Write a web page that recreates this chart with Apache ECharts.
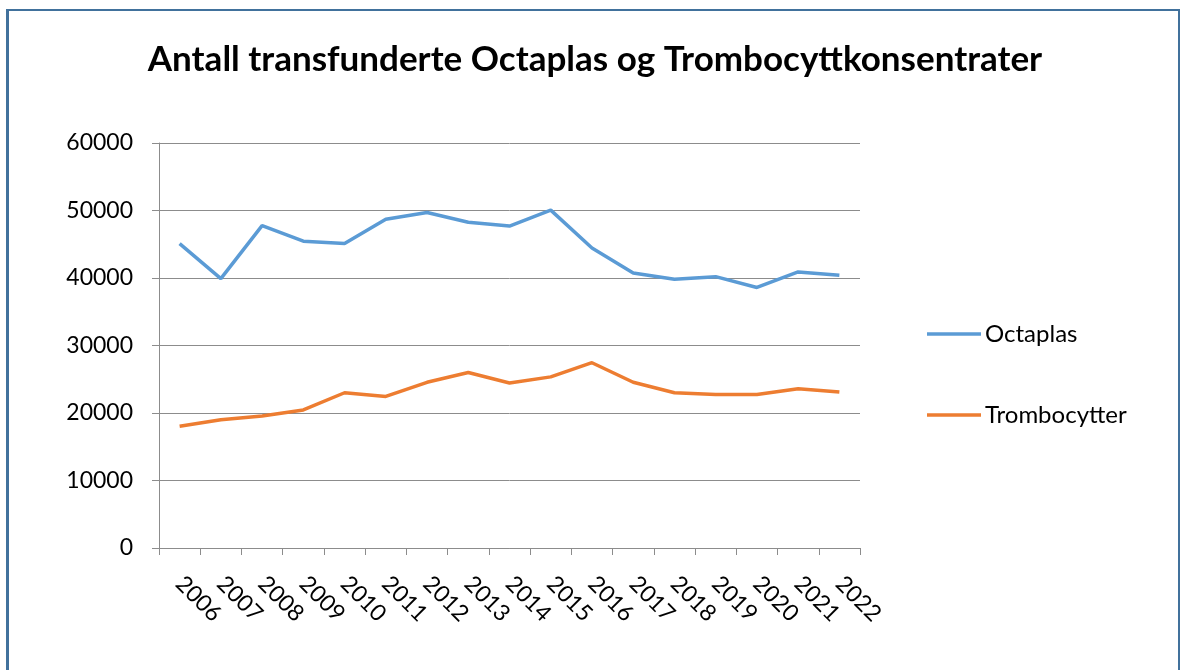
<!DOCTYPE html>
<html lang="no">
<head>
    <meta charset="UTF-8">
    <title>Antall transfunderte Octaplas og Trombocyttkonsentrater</title>
    <script src="https://cdn.jsdelivr.net/npm/echarts@6.0.0/dist/echarts.min.js"></script>
    <style>
        body { margin: 0; background: #fff; }
        #frame {
            position: absolute; left: 6px; top: 9px; width: 1174px; height: 700px;
            border: 2px solid #41719c; border-left-width: 3px; box-sizing: border-box;
        }
        #chart { position: absolute; left: 0; top: 0; width: 1184px; height: 670px; }
    </style>
</head>
<body>
<div id="frame"></div>
<div id="chart"></div>

<script>
    // years on the x axis
    var years = ['2006', '2007', '2008', '2009', '2010', '2011', '2012', '2013', '2014',
        '2015', '2016', '2017', '2018', '2019', '2020', '2021', '2022'];
    // values
    var octaplas = [45100, 39900, 47750, 45450, 45100, 48700, 49700, 48250, 47700,
        50050, 44450, 40750, 39800, 40200, 38600, 40900, 40400];
    var trombocytter = [18050, 19000, 19550, 20450, 23000, 22450, 24550, 26000, 24450,
        25350, 27450, 24550, 23000, 22750, 22750, 23600, 23100];

    var font = 'Lato';
    var grey = '#8c8c8c';

    var chart = echarts.init(document.getElementById('chart'));
    var option = {
        animation: false,
        color: ['#5b9bd5', '#ed7d31'],
        title: {
            text: 'Antall transfunderte Octaplas og Trombocyttkonsentrater',
            left: 590, top: 37, textAlign: 'center',
            textStyle: {fontFamily: font, fontSize: 35, fontWeight: 'bold', color: '#000'}
        },
        legend: {
            orient: 'vertical',
            left: 922, top: 317,
            icon: 'rect',
            itemWidth: 54, itemHeight: 3.5,
            itemGap: 57,
            textStyle: {fontFamily: font, fontSize: 24, color: '#000', lineHeight: 24, padding: [0, 0, 0, -1]},
            data: ['Octaplas', 'Trombocytter']
        },
        grid: {left: 159, right: 324, top: 143, bottom: 122, containLabel: false},
        xAxis: {
            type: 'category',
            data: years,
            boundaryGap: true,
            axisLine: {lineStyle: {color: grey, width: 1}},
            axisTick: {show: true, length: 7, alignWithLabel: false, lineStyle: {color: grey}},
            axisLabel: {
                rotate: -45, margin: 32, interval: 0,
                fontFamily: font, fontSize: 23, color: '#000'
            }
        },
        yAxis: {
            type: 'value',
            min: 0, max: 60000, interval: 10000,
            axisLine: {show: true, lineStyle: {color: grey, width: 1}},
            axisTick: {show: true, length: 7, lineStyle: {color: grey}},
            axisLabel: {
                margin: 26, fontFamily: font, fontSize: 23, color: '#000',
                formatter: function (value) {
                    return String(value);
                }
            },
            splitLine: {lineStyle: {color: grey, width: 1}}
        },
        series: [
            {
                name: 'Octaplas', type: 'line', data: octaplas,
                symbol: 'none', lineStyle: {width: 3.5}
            },
            {
                name: 'Trombocytter', type: 'line', data: trombocytter,
                symbol: 'none', lineStyle: {width: 3.5}
            }
        ]
    };
    chart.setOption(option);
</script>
</body>
</html>
